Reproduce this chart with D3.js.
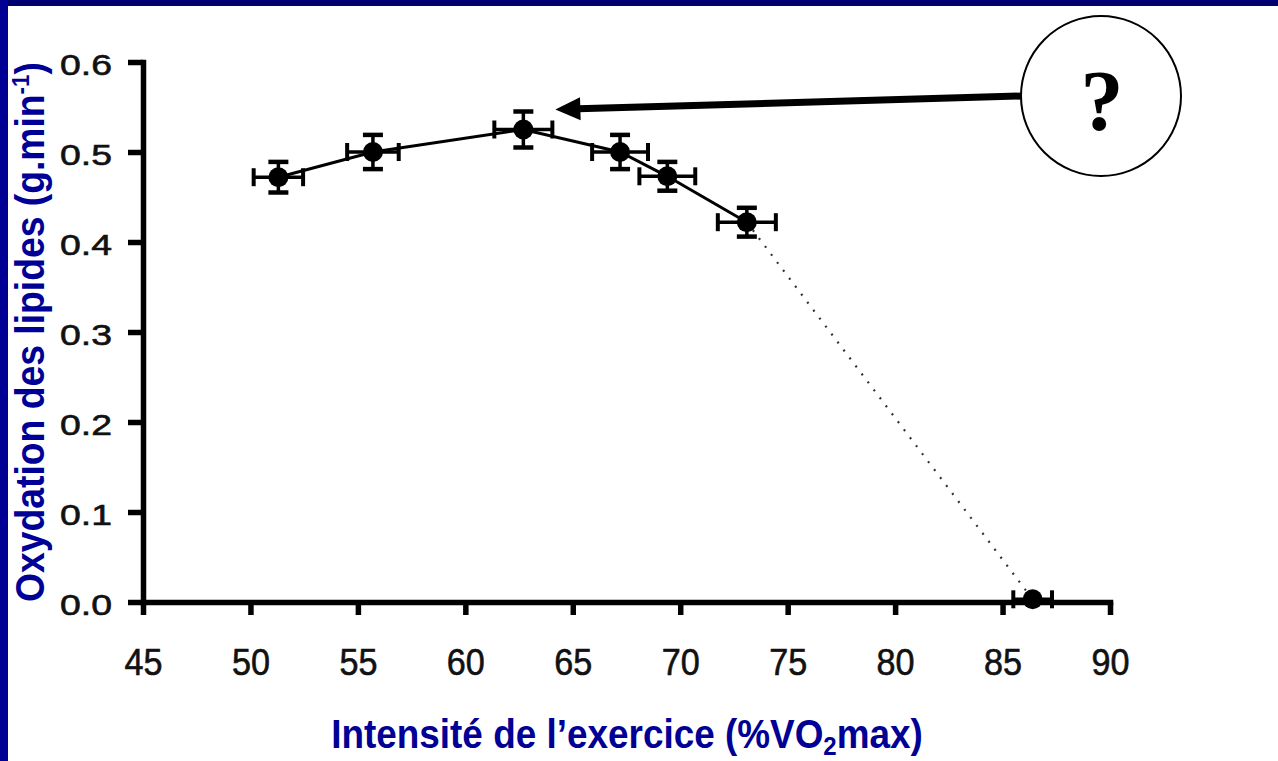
<!DOCTYPE html>
<html>
<head>
<meta charset="utf-8">
<script src="https://cdn.jsdelivr.net/npm/d3@7"></script>
<style>
  html, body { margin: 0; padding: 0; background: #fff; }
  svg { display: block; }
</style>
</head>
<body>
<svg id="chart" width="1278" height="761"></svg>
<script>
// Fat oxidation vs exercise intensity
const intensity = [51.3, 55.7, 62.7, 67.2, 69.4, 73.1, 86.4];     // %VO2max
const fatOxidation = [0.472, 0.500, 0.525, 0.500, 0.473, 0.422, 0.003]; // g.min-1
const intensityErr = [1.15, 1.2, 1.35, 1.3, 1.3, 1.35, 0.9];
const oxidationErr = [0.017, 0.019, 0.020, 0.019, 0.016, 0.016, 0];
const xTickValues = [45, 50, 55, 60, 65, 70, 75, 80, 85, 90];
const yTickValues = [0.0, 0.1, 0.2, 0.3, 0.4, 0.5, 0.6];
const solidCount = 6; // measured points joined by a solid line; last one joined by a dotted line

const svg = d3.select("#chart");
const W = 1278, H = 761;

svg.append("rect").attr("width", W).attr("height", H).attr("fill", "#fff");
// slide frame
svg.append("rect").attr("x", 0).attr("y", 0).attr("width", W).attr("height", 6).attr("fill", "#000070");
svg.append("rect").attr("x", 0).attr("y", 0).attr("width", 8).attr("height", H).attr("fill", "#000094");

const x = d3.scaleLinear().domain([45, 90]).range([143, 1110]);
const y = d3.scaleLinear().domain([0, 0.6]).range([602, 62]);

const sans = "'Liberation Sans', Arial, Helvetica, sans-serif";

// axes
const gx = svg.append("g").attr("transform", `translate(0,${y(0)})`)
  .call(d3.axisBottom(x).tickValues(xTickValues).tickFormat(d3.format("d"))
    .tickSizeInner(13).tickSizeOuter(0).tickPadding(34));
const gy = svg.append("g").attr("transform", `translate(${x(45)},0)`)
  .call(d3.axisLeft(y).tickValues(yTickValues).tickFormat(d3.format(".1f"))
    .tickSizeInner(15).tickSizeOuter(0).tickPadding(16));

[gx, gy].forEach(g => {
  g.select(".domain").attr("stroke", "#000").attr("stroke-width", 5.5).attr("stroke-linecap", "square");
  g.selectAll(".tick line").attr("stroke", "#000").attr("stroke-width", 5.5);
  g.selectAll(".tick text").attr("fill", "#111").attr("stroke", "#111").attr("stroke-width", 0.6)
    .attr("font-family", sans);
});
gx.selectAll(".tick text").attr("font-size", 36)
  .attr("textLength", 38).attr("lengthAdjust", "spacingAndGlyphs");
gy.selectAll(".tick text").attr("font-size", 30).attr("dy", "0.43em")
  .attr("textLength", 52).attr("lengthAdjust", "spacingAndGlyphs");

// connecting lines
const pts = intensity.map((v, i) => ({ x: v, y: fatOxidation[i], ex: intensityErr[i], ey: oxidationErr[i] }));
const line = d3.line().x(d => x(d.x)).y(d => y(d.y));
svg.append("path").datum(pts.slice(0, solidCount))
  .attr("d", line).attr("fill", "none").attr("stroke", "#000").attr("stroke-width", 3);
svg.append("path").datum(pts.slice(solidCount - 1))
  .attr("d", line).attr("fill", "none").attr("stroke", "#333")
  .attr("stroke-width", 2.2).attr("stroke-dasharray", "2,8");

// error bars and points
const cap = 10;
const g = svg.append("g");
pts.forEach(d => {
  const cx = x(d.x), cy = y(d.y);
  const x0 = x(d.x - d.ex), x1 = x(d.x + d.ex);
  g.append("line").attr("x1", x0).attr("x2", x1).attr("y1", cy).attr("y2", cy)
    .attr("stroke", "#000").attr("stroke-width", 3.5);
  [x0, x1].forEach(xx => g.append("line").attr("x1", xx).attr("x2", xx)
    .attr("y1", cy - 9).attr("y2", cy + 9).attr("stroke", "#000").attr("stroke-width", 4));
  if (d.ey > 0) {
    const y0 = y(d.y - d.ey), y1 = y(d.y + d.ey);
    g.append("line").attr("x1", cx).attr("x2", cx).attr("y1", y0).attr("y2", y1)
      .attr("stroke", "#000").attr("stroke-width", 3.5);
    [y0, y1].forEach(yy => g.append("line").attr("x1", cx - cap).attr("x2", cx + cap)
      .attr("y1", yy).attr("y2", yy).attr("stroke", "#000").attr("stroke-width", 4.5));
  }
  g.append("circle").attr("cx", cx).attr("cy", cy).attr("r", 10).attr("fill", "#000");
});

// axis titles
const blue = "#000096";
const yTitle = svg.append("text")
  .attr("font-family", sans).attr("font-weight", "bold").attr("font-size", 40)
  .attr("fill", blue).attr("text-anchor", "middle");
yTitle.append("tspan").text("Oxydation des lipides (g.min");
yTitle.append("tspan").attr("font-size", 24).attr("dy", -15).text("-1");
yTitle.append("tspan").attr("dy", 15).text(")");
const yLen = yTitle.node().getComputedTextLength();
yTitle.attr("transform", `translate(44,${(y(0) + y(0.6)) / 2}) rotate(-90) scale(${540 / yLen},1)`);

const xTitle = svg.append("text")
  .attr("font-family", sans).attr("font-weight", "bold").attr("font-size", 40)
  .attr("fill", blue).attr("text-anchor", "middle");
xTitle.append("tspan").text("Intensité de l’exercice (%VO");
xTitle.append("tspan").attr("font-size", 26).attr("dy", 7).text("2");
xTitle.append("tspan").attr("dy", -7).text("max)");
const xLen = xTitle.node().getComputedTextLength();
xTitle.attr("transform", `translate(627,748) scale(${592 / xLen},1)`);

// question bubble with arrow toward the peak
const peak = pts[d3.maxIndex(pts, d => d.y)];
const tipX = x(peak.x) + 32, tipY = y(peak.y) - 20;
const bubble = { cx: 1101, cy: 96, r: 80 };
const startX = bubble.cx - bubble.r + 1, startY = 96;
const ang = Math.atan2(tipY - startY, tipX - startX);
const headLen = 25, headHalf = 11.5;
const baseX = tipX - headLen * Math.cos(ang), baseY = tipY - headLen * Math.sin(ang);
svg.append("line").attr("x1", startX).attr("y1", startY).attr("x2", baseX + 2 * Math.cos(ang)).attr("y2", baseY + 2 * Math.sin(ang))
  .attr("stroke", "#000").attr("stroke-width", 7);
const px = -Math.sin(ang), py = Math.cos(ang);
svg.append("polygon")
  .attr("points", [[tipX, tipY], [baseX + headHalf * px, baseY + headHalf * py], [baseX - headHalf * px, baseY - headHalf * py]].map(p => p.join(",")).join(" "))
  .attr("fill", "#000");
svg.append("circle").attr("cx", bubble.cx).attr("cy", bubble.cy).attr("r", bubble.r)
  .attr("fill", "#fff").attr("stroke", "#000").attr("stroke-width", 2);
svg.append("text").attr("x", 1102).attr("y", 130).attr("text-anchor", "middle")
  .attr("font-family", "'Liberation Serif', 'Times New Roman', serif").attr("font-weight", "bold")
  .attr("font-size", 86).attr("fill", "#000").text("?");
</script>
</body>
</html>
